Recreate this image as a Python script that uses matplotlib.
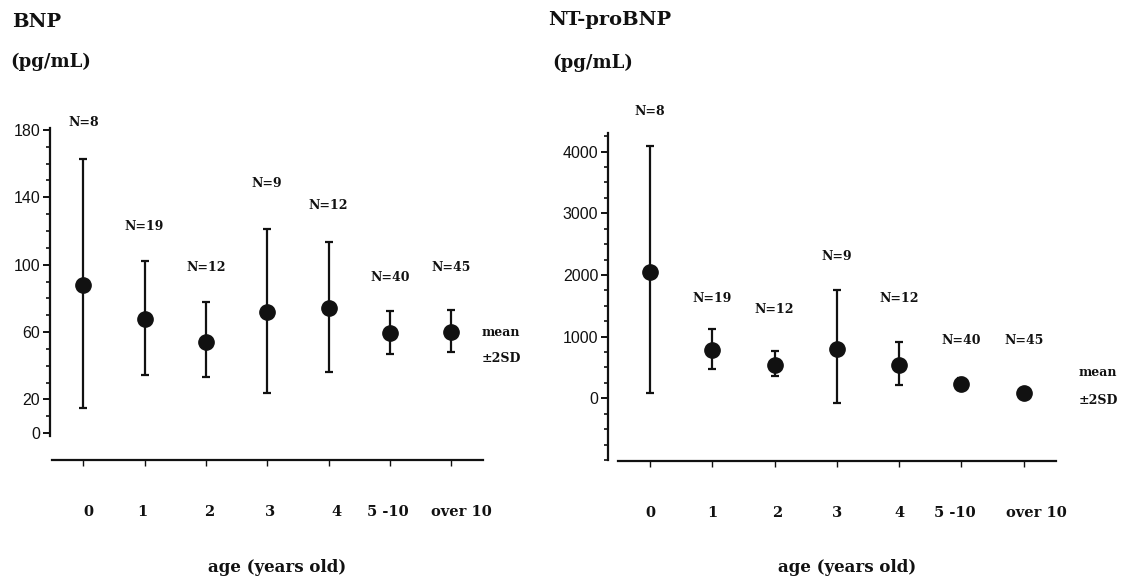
import matplotlib
matplotlib.use("Agg")
import matplotlib.pyplot as plt
import numpy as np
from matplotlib.ticker import FixedLocator

# ---------------- data ----------------
ages = ["0", "1", "2", "3", "4", "5 -10", "over 10"]
n_counts = [8, 19, 12, 9, 12, 40, 45]

bnp_mean = [88, 68, 54, 72, 74.5, 59.5, 60]
bnp_low = [15, 34.5, 33, 24, 36, 47, 48]
bnp_high = [163, 102, 78, 121, 113.5, 72.5, 73]

nt_mean = [2050, 785, 540, 800, 540, 232, 80]
nt_low = [80, 480, 365, -70, 220, 130, 30]
nt_high = [4090, 1125, 775, 1760, 920, 335, 135]

bnp_major = [0, 20, 60, 100, 140, 180]
nt_major = [0, 1000, 2000, 3000, 4000]

# ---------------- figure ----------------
W, H = 1126, 579
fig = plt.figure(figsize=(W / 100, H / 100), dpi=100)
INK = "#111111"
SERIF = ["DejaVu Serif"]
SANS = ["Liberation Sans", "DejaVu Sans"]


def px_axes(left, right, bottom, top):
    return fig.add_axes([left / W, 1 - bottom / H, (right - left) / W, (bottom - top) / H])


def style_panel(ax, means, lows, highs, offsets, major, minor_range, ylim, xlim,
                ybounds, xbounds, ytick_size, mean_xy, label_dx, xlabel_xy):
    x = list(range(len(means)))
    yerr = [[m - l for m, l in zip(means, lows)], [h - m for m, h in zip(means, highs)]]
    ax.errorbar(x, means, yerr=yerr, fmt="o", color=INK, ms=11, elinewidth=1.6,
                capsize=3.2, capthick=1.6, zorder=3)
    ax.set_xlim(*xlim)
    ax.set_ylim(*ylim)
    for s in ("top", "right"):
        ax.spines[s].set_visible(False)
    ax.spines["left"].set_bounds(*ybounds)
    ax.spines["bottom"].set_bounds(*xbounds)
    for s in ("left", "bottom"):
        ax.spines[s].set_linewidth(1.6)
        ax.spines[s].set_color(INK)
    ax.yaxis.set_major_locator(FixedLocator(major))
    ax.yaxis.set_minor_locator(FixedLocator(np.arange(*minor_range)))
    ax.tick_params(axis="y", which="major", direction="out", length=5, width=1.4,
                   labelsize=ytick_size, pad=2, colors=INK)
    ax.tick_params(axis="y", which="minor", direction="out", length=3, width=1.2, colors=INK)
    for lab in ax.get_yticklabels():
        lab.set_family(SANS)
    ax.set_xticks(x)
    ax.set_xticklabels([])
    ax.tick_params(axis="x", direction="out", length=4, width=1.0, colors=INK)
    # category labels under the axis line
    for i, (lab, dx) in enumerate(zip(ages, label_dx)):
        ax.annotate(lab, xy=(i, 0), xycoords=ax.get_xaxis_transform(),
                    xytext=(dx * 0.72, -52 * 0.72), textcoords="offset points",
                    ha="center", va="center", fontfamily=SERIF, fontweight="bold",
                    fontsize=10.5, color=INK, annotation_clip=False)
    fig.text(xlabel_xy[0] / W, 1 - xlabel_xy[1] / H, "age (years old)", fontfamily=SERIF,
             fontweight="bold", fontsize=12, color=INK, ha="center", va="center")
    for i, (h, n, off) in enumerate(zip(highs, n_counts, offsets)):
        ax.annotate(f"N={n}", xy=(i, h), xytext=(0, off * 0.72), textcoords="offset points",
                    ha="center", va="center", fontfamily=SERIF, fontweight="bold",
                    fontsize=9, color=INK, annotation_clip=False)
    fig.text(mean_xy[0] / W, 1 - mean_xy[1] / H, "mean", fontfamily=SERIF,
             fontweight="bold", fontsize=9, color=INK, va="center")
    fig.text(mean_xy[0] / W, 1 - (mean_xy[1] + 27) / H, "\u00b12SD", fontfamily=SERIF,
             fontweight="bold", fontsize=9, color=INK, va="center")


# left panel (BNP)
ax1 = px_axes(50, 483, 460, 100)
style_panel(ax1, bnp_mean, bnp_low, bnp_high, [36, 35, 34, 46, 36, 33, 43],
            bnp_major, (0, 181, 10), (-16.0, 197.8), (-0.543, 6.52), (-2, 181),
            (-0.51, 6.52), 11.5, (482, 332), [5, -2, 3, 3, 8, -2, 10], (277, 567))

# right panel (NT-proBNP)
ax2 = px_axes(608, 1056, 460.7, 100)
style_panel(ax2, nt_mean, nt_low, nt_high, [35, 30, 41, 33, 43, 37, 49],
            nt_major, (-1000, 4251, 250), (-1012, 4838), (-0.674, 6.517), (-1000, 4300),
            (-0.514, 6.517), 11.5, (1079, 373), [0, 0, 3, 0, 0, -7, 13], (847, 567))

# titles
fig.text(12 / W, 1 - 22 / H, "BNP", fontfamily=SERIF, fontweight="bold",
         fontsize=14, color=INK, va="center", ha="left")
fig.text(10 / W, 1 - 62 / H, "(pg/mL)", fontfamily=SERIF, fontweight="bold",
         fontsize=13, color=INK, va="center", ha="left")
fig.text(548 / W, 1 - 20 / H, "NT-proBNP", fontfamily=SERIF, fontweight="bold",
         fontsize=14, color=INK, va="center", ha="left")
fig.text(552 / W, 1 - 63 / H, "(pg/mL)", fontfamily=SERIF, fontweight="bold",
         fontsize=13, color=INK, va="center", ha="left")

fig.savefig("out.png", dpi=100, facecolor="white")
